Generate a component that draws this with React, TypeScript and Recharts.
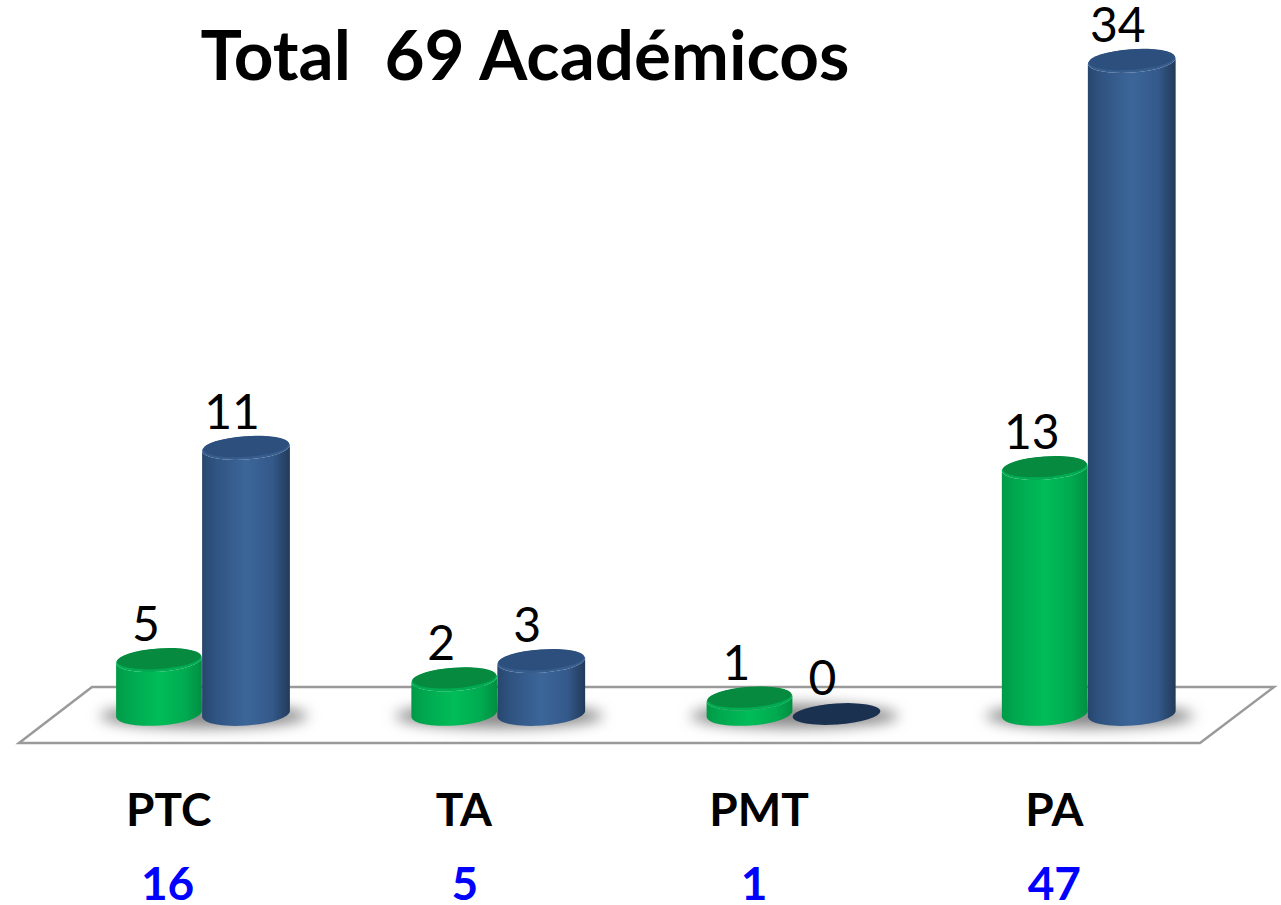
import React from "react";
import { BarChart, Bar, XAxis, YAxis, LabelList, Customized } from "recharts";

const categories = ["PTC", "TA", "PMT", "PA"];
const categoryTotals = [16, 5, 1, 47];
// Heights of the drawn cylinders.
// In the reference the PTC cylinders are not drawn to the height of their printed numbers.
const greenHeights = [2.8, 1.8, 0.8, 12.8];
const blueHeights = [13.85, 2.75, 0, 34];
// Numbers printed above the cylinders
const greenLabels = [5, 2, 1, 13];
const blueLabels = [11, 3, 0, 34];
const titleText = "Total  69 Académicos";

const rows = categories.map((name, i) => ({
  name,
  total: categoryTotals[i],
  green: greenHeights[i],
  blue: blueHeights[i],
  greenLabel: greenLabels[i],
  blueLabel: blueLabels[i],
  shadow: 1,
}));

const FONT = "Lato, sans-serif";
const TILT = -4;
const SIN = Math.sin((TILT * Math.PI) / 180);
const COS = Math.cos((TILT * Math.PI) / 180);

const Decor = () => (
  <g>
    <defs>
      <linearGradient id="sideBlue" x1="0" x2="1" y1="0" y2="0">
        <stop offset="0" stopColor="#27466d" />
        <stop offset="0.14" stopColor="#2f5381" />
        <stop offset="0.5" stopColor="#3c6699" />
        <stop offset="0.8" stopColor="#34598a" />
        <stop offset="1" stopColor="#213a59" />
      </linearGradient>
      <linearGradient id="sideGreen" x1="0" x2="1" y1="0" y2="0">
        <stop offset="0" stopColor="#009a46" />
        <stop offset="0.14" stopColor="#00a74e" />
        <stop offset="0.5" stopColor="#00bd58" />
        <stop offset="0.8" stopColor="#00ab50" />
        <stop offset="1" stopColor="#008f42" />
      </linearGradient>
      <filter id="blurShadow" x="-30%" y="-100%" width="160%" height="300%">
        <feGaussianBlur stdDeviation="7" />
      </filter>
    </defs>
    <polygon points="19,743 92,687 1274,687 1200,743" fill="#fff" stroke="#9a9a9a" strokeWidth={2.5} />
    <text x={525} y={80} textAnchor="middle" fontFamily={FONT} fontWeight={700} fontSize={69.2} fill="#000" style={{ whiteSpace: "pre" }}>
      {titleText}
    </text>
  </g>
);

const ShadowShape = (props: any) => {
  const { x, width, background } = props;
  const cx = x + width / 2;
  const baseY = background ? background.y + background.height : 714;
  return <ellipse cx={cx + 2} cy={baseY + 2} rx={104} ry={12} fill="#8a8a8a" filter="url(#blurShadow)" />;
};

const makeCylinder = (side: string, top: string, rim: string, extra: number) => (props: any) => {
  const { x, y, width, height } = props;
  const cx = x + width / 2 + extra / 2;
  const rx = (width + extra) / 2;
  const ry = 11.5;
  const yTop = y;
  const yBot = y + height;
  const lx = cx - rx * COS;
  const rxx = cx + rx * COS;
  const dy = -rx * SIN;
  if (height < 0.5) {
    return <ellipse cx={cx} cy={yBot} rx={rx} ry={ry - 1} fill="#1b3150" transform={`rotate(${TILT} ${cx} ${yBot})`} />;
  }
  const d = `M${lx} ${yTop + dy} L${lx} ${yBot + dy} A${rx} ${ry} ${TILT} 0 0 ${rxx} ${yBot - dy} L${rxx} ${yTop - dy} A${rx} ${ry} ${TILT} 0 1 ${lx} ${yTop + dy} Z`;
  return (
    <g>
      <path d={d} fill={`url(#${side})`} />
      <ellipse cx={cx} cy={yTop} rx={rx} ry={ry} fill={rim} transform={`rotate(${TILT} ${cx} ${yTop})`} />
      <ellipse cx={cx} cy={yTop - 1.5} rx={rx - 1} ry={ry - 1.2} fill={top} transform={`rotate(${TILT} ${cx} ${yTop - 1.5})`} />
    </g>
  );
};

const GreenCylinder = makeCylinder("sideGreen", "#058a3f", "#00ac52", 0);
const BlueCylinder = makeCylinder("sideBlue", "#2d4f7d", "#365d8e", 2);

const renderCount = (props: any) => {
  const { x, y, width, value } = props;
  return (
    <text x={x + width / 2 - 13} y={y - 19} textAnchor="middle" fontFamily={FONT} fontSize={48} fill="#000">
      {value}
    </text>
  );
};

const totalShift = [-34, -32, -38, -33];

const CategoryTick = (props: any) => {
  const { x, y, index, payload } = props;
  return (
    <g>
      <text x={x - 33} y={y + 104} textAnchor="middle" fontFamily={FONT} fontWeight={700} fontSize={46} fill="#000">
        {payload.value}
      </text>
      <text x={x + totalShift[index]} y={y + 178} textAnchor="middle" fontFamily={FONT} fontWeight={700} fontSize={46} fill="#0000ff">
        {categoryTotals[index]}
      </text>
    </g>
  );
};

export default function App() {
  return (
    <div style={{ position: "absolute", left: 0, top: 0, width: 1281, height: 905, background: "#fff" }}>
      <BarChart
        width={1281}
        height={905}
        data={rows}
        margin={{ top: 61, right: 46, bottom: 0, left: 54 }}
        barSize={86}
        barGap={0}
      >
        <Customized component={Decor} />
        <XAxis xAxisId="shadow" dataKey="name" hide />
        <XAxis
          dataKey="name"
          height={191}
          axisLine={false}
          tickLine={false}
          interval={0}
          tick={<CategoryTick />}
        />
        <YAxis hide domain={[0, 34]} />
        <Bar xAxisId="shadow" dataKey="shadow" barSize={86} shape={<ShadowShape />} isAnimationActive={false} />
        <Bar dataKey="green" shape={<GreenCylinder />} isAnimationActive={false}>
          <LabelList dataKey="greenLabel" content={renderCount} />
        </Bar>
        <Bar dataKey="blue" shape={<BlueCylinder />} isAnimationActive={false}>
          <LabelList dataKey="blueLabel" content={renderCount} />
        </Bar>
      </BarChart>
    </div>
  );
}
